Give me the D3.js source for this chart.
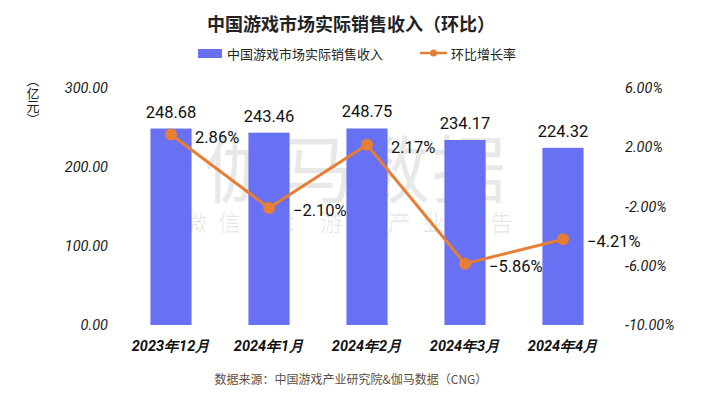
<!DOCTYPE html>
<html>
<head>
  <meta charset="utf-8">
  <style>
    body { margin: 0; background: #fff; }
    text { font-family: "Noto Sans CJK SC", "Noto Sans", sans-serif; }
    .num { font-family: Roboto, "Noto Sans", sans-serif; }
    .tick text { font-family: Roboto, sans-serif; font-style: italic; font-size: 14.5px; fill: #1a1a1a; }
    .axis path, .axis line { display: none; }
  </style>
  <script src="https://cdn.jsdelivr.net/npm/d3@7/dist/d3.min.js"></script>
</head>
<body>
  <div id="chart"></div>
  <script>
    var months = ["2023年12月", "2024年1月", "2024年2月", "2024年3月", "2024年4月"];
    var revenue = [248.68, 243.46, 248.75, 234.17, 224.32];
    var growth = [2.86, -2.10, 2.17, -5.86, -4.21];
    var leftTicks = [0, 100, 200, 300];
    var rightTicks = [-10, -6, -2, 2, 6];

    var W = 702, H = 396;
    var barColor = "#6870f4";
    var lineColor = "#e67e33";

    var svg = d3.select("#chart").append("svg")
      .attr("width", W)
      .attr("height", H);

    var x = d3.scaleBand().domain(months).range([122, 612])
      .paddingInner(0.58).paddingOuter(0.29);
    var y = d3.scaleLinear().domain([0, 300]).range([325, 88]);
    var y2 = d3.scaleLinear().domain([-10, 6]).range([325, 88]);

    // watermark (sits behind the bars)
    var wm = svg.append("g").attr("fill", "#000").attr("fill-opacity", 0.09);
    wm.append("text")
      .attr("x", 356).attr("y", 197)
      .attr("text-anchor", "middle")
      .attr("font-size", 74)
      .attr("letter-spacing", 2)
      .text("伽马数据");
    wm.append("text")
      .attr("x", 354).attr("y", 231)
      .attr("text-anchor", "middle")
      .attr("font-size", 23)
      .attr("letter-spacing", 11)
      .text("微信号：游戏产业报告");

    // title
    svg.append("text")
      .attr("x", 351).attr("y", 31)
      .attr("text-anchor", "middle")
      .attr("font-size", 18)
      .attr("font-weight", "bold")
      .attr("fill", "#222")
      .text("中国游戏市场实际销售收入（环比）");

    // legend
    var lg = svg.append("g");
    lg.append("rect").attr("x", 198).attr("y", 49).attr("width", 24).attr("height", 9).attr("fill", barColor);
    lg.append("text").attr("x", 227).attr("y", 59).attr("font-size", 13).attr("fill", "#222")
      .text("中国游戏市场实际销售收入");
    lg.append("line").attr("x1", 420).attr("x2", 447).attr("y1", 53).attr("y2", 53)
      .attr("stroke", lineColor).attr("stroke-width", 2.5);
    lg.append("circle").attr("cx", 433.5).attr("cy", 53).attr("r", 3.5).attr("fill", lineColor);
    lg.append("text").attr("x", 451).attr("y", 59).attr("font-size", 13).attr("fill", "#222")
      .text("环比增长率");

    // unit label
    svg.append("text")
      .attr("x", 33).attr("y", 74)
      .attr("font-size", 13)
      .attr("fill", "#222")
      .style("writing-mode", "vertical-rl")
      .text("（亿元）");

    // axes
    svg.append("g").attr("class", "axis")
      .attr("transform", "translate(113,0)")
      .call(d3.axisLeft(y).tickValues(leftTicks).tickSize(0).tickPadding(5)
        .tickFormat(function(d) { return d.toFixed(2); }));

    svg.append("g").attr("class", "axis")
      .attr("transform", "translate(622,0)")
      .call(d3.axisRight(y2).tickValues(rightTicks).tickSize(0).tickPadding(3)
        .tickFormat(function(d) { return d.toFixed(2) + "%"; }));

    var xAxis = svg.append("g").attr("class", "axis")
      .attr("transform", "translate(0,325)")
      .call(d3.axisBottom(x).tickSize(0).tickPadding(16));
    xAxis.selectAll("text")
      .style("font-weight", "bold")
      .style("font-size", "14.5px")
      .style("fill", "#111");

    // bars
    svg.selectAll(".bar").data(revenue).enter().append("rect")
      .attr("class", "bar")
      .attr("x", function(d, i) { return x(months[i]); })
      .attr("width", x.bandwidth())
      .attr("y", function(d) { return y(d); })
      .attr("height", function(d) { return y(0) - y(d); })
      .attr("fill", barColor);

    svg.selectAll(".barLabel").data(revenue).enter().append("text")
      .attr("class", "num barLabel")
      .attr("x", function(d, i) { return x(months[i]) + x.bandwidth() / 2; })
      .attr("y", function(d) { return y(d) - 11; })
      .attr("text-anchor", "middle")
      .attr("font-size", 16.5)
      .attr("fill", "#111")
      .text(function(d) { return d.toFixed(2); });

    // line
    var cx = function(i) { return x(months[i]) + x.bandwidth() / 2; };
    var line = d3.line()
      .x(function(d, i) { return cx(i); })
      .y(function(d) { return y2(d); });

    svg.append("path")
      .datum(growth)
      .attr("d", line)
      .attr("fill", "none")
      .attr("stroke", lineColor)
      .attr("stroke-width", 3);

    svg.selectAll(".dot").data(growth).enter().append("circle")
      .attr("cx", function(d, i) { return cx(i); })
      .attr("cy", function(d) { return y2(d); })
      .attr("r", 6)
      .attr("fill", lineColor);

    svg.selectAll(".pctLabel").data(growth).enter().append("text")
      .attr("class", "num pctLabel")
      .attr("x", function(d, i) { return cx(i) + 24; })
      .attr("y", function(d) { return y2(d) + 8; })
      .attr("font-size", 16.5)
      .attr("fill", "#111")
      .text(function(d) { return (d < 0 ? "−" : "") + Math.abs(d).toFixed(2) + "%"; });

    // source
    svg.append("text")
      .attr("x", 351).attr("y", 384)
      .attr("text-anchor", "middle")
      .attr("font-size", 12)
      .attr("fill", "#5e4e3e")
      .text("数据来源：中国游戏产业研究院&伽马数据（CNG）");
  </script>
</body>
</html>
